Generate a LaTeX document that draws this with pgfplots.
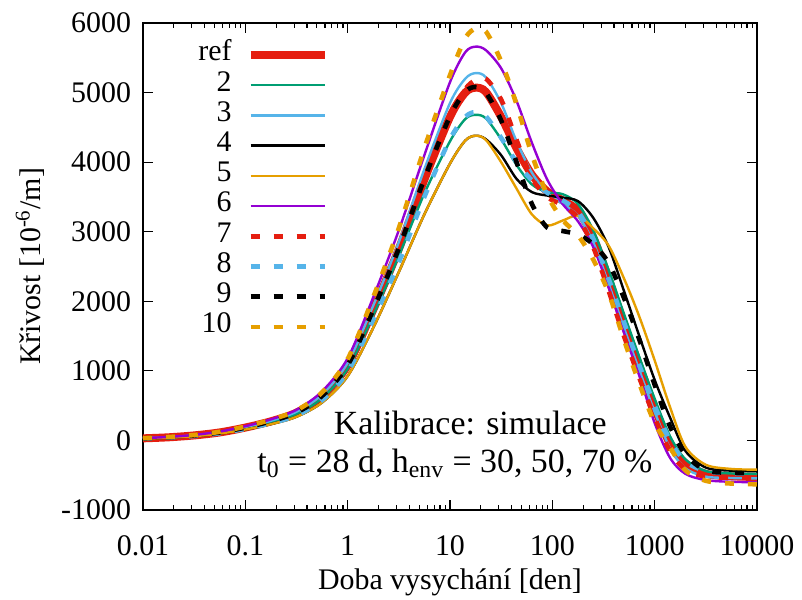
\documentclass[border=0pt]{standalone}
\usepackage{fontspec}
\setmainfont{Liberation Serif}
\usepackage{pgfplots}
\usepackage{pgfplotstable}
\pgfplotsset{compat=1.18}

\definecolor{gpgreen}{HTML}{009E73}
\definecolor{gpsky}{HTML}{56B4E9}
\definecolor{gporange}{HTML}{E69F00}
\definecolor{gppurple}{HTML}{9400D3}
\definecolor{gpred}{HTML}{E51E10}

\pgfplotstableread{
x      ref   s2    s3    s4    s5    s6    s7    s8    s9    s10
0.01   30    28    31    25    25    33    30    27    30    32
0.0178 45    43    46    38    38    50    45    41    45    49
0.0316 72    68    74    61    61    79    72    65    72    78
0.0562 115   109   118   98    98    127   115   104   115   124
0.1    185   176   191   157   157   204   185   167   185   200
0.178  275   261   283   234   234   303   275   248   275   297
0.316  400   380   412   340   340   440   400   360   400   432
0.562  640   608   660   545   545   705   645   580   640   690
1      1080  1030  1115  925   925   1180  1090  985   1080  1170
1.78   1880  1800  1940  1620  1620  2060  1900  1740  1880  2060
3.16   2750  2650  2850  2420  2420  3020  2780  2560  2760  3050
5.62   3750  3550  3900  3250  3250  4100  3780  3500  3760  4200
10     4650  4300  4850  3980  3980  5150  4650  4330  4660  5250
14.1   5000  4620  5200  4310  4310  5580  5050  4650  5010  5780
17.8   5070  4680  5280  4380  4380  5660  5180  4720  5080  5920
22.4   5010  4630  5220  4330  4320  5610  5200  4660  5000  5880
31.6   4650  4330  4850  4100  4000  5350  4900  4350  4600  5450
44.7   4200  3960  4300  3760  3620  4880  4320  4000  4000  4830
63.1   3820  3680  3850  3570  3250  4280  3770  3740  3400  4110
89.1   3580  3570  3560  3520  3090  3750  3500  3560  3060  3530
126    3450  3540  3400  3490  3160  3400  3380  3450  3010  3170
178    3300  3400  3230  3440  3230  3150  3200  3290  2960  2950
251    2920  3020  2850  3200  3050  2780  2780  2900  2820  2600
355    2320  2450  2250  2780  2800  2200  2150  2320  2550  2120
501    1680  1820  1620  2150  2330  1550  1500  1700  2050  1450
708    1070  1200  1010  1500  1780  930   900   1080  1450  820
1000   470   600   410   870   1150  250   330   500   800   250
1413   -50   60    -110  330   480   -250  -150  0     200   -100
1995   -330  -270  -400  -150  -90   -480  -420  -300  -200  -430
3162   -480  -440  -520  -390  -350  -570  -520  -440  -430  -580
5623   -515  -475  -540  -435  -410  -595  -535  -470  -465  -620
10000  -525  -480  -545  -440  -420  -600  -540  -475  -470  -630
}\curves

\begin{document}
\begin{tikzpicture}[font=\fontsize{15}{18}\selectfont]
\useasboundingbox (-71.5bp,-45bp) rectangle (329.5bp,255bp);
\begin{axis}[
    at={(0,0)}, anchor=south west,
    scale only axis,
    width=307bp, height=243.5bp,
    xmode=log,
    xmin=0.01, xmax=10000,
    ymin=-1000, ymax=6000,
    xtick={0.01,0.1,1,10,100,1000,10000},
    xticklabels={0.01,0.1,1,10,100,1000,10000},
    ytick={-1000,0,1000,2000,3000,4000,5000,6000},
    yticklabels={-1000,0,1000,2000,3000,4000,5000,6000},
    tick align=inside,
    major tick length=5bp,
    minor tick length=2.5bp,
    axis line style={line width=0.8bp},
    every tick/.style={line width=0.6bp, black},
    xticklabel style={yshift=-9.5bp},
    yticklabel style={xshift=-2.5bp},
    xlabel={Doba vysychání [den]},
    ylabel={Křivost [10\textsuperscript{-6}/m]},
    every axis x label/.style={at={(axis description cs:0.5,-0.148)}, anchor=center},
    every axis y label/.style={at={(axis description cs:-0.184,0.5)}, anchor=center, rotate=90},
    legend plot pos=right,
    legend cell align=right,
    legend style={at={(rel axis cs:0.303,0.966)}, anchor=north east,
        draw=none, fill=none, inner sep=0pt, row sep=0pt, column sep=7.5bp,
        nodes={inner sep=0pt, text height=10.5bp, text depth=4.6bp}},
    legend image code/.code={\draw[#1] (0bp,0bp) -- (37bp,0bp);},
    every axis plot/.append style={smooth, tension=0.5, line cap=butt},
]
\addplot[gpred, line width=4bp] table[x=x, y=ref] {\curves};
\addlegendentry{ref}
\addplot[gpgreen, line width=1.2bp] table[x=x, y=s2] {\curves};
\addlegendentry{2}
\addplot[gpsky, line width=1.2bp] table[x=x, y=s3] {\curves};
\addlegendentry{3}
\addplot[black, line width=1.2bp] table[x=x, y=s4] {\curves};
\addlegendentry{4}
\addplot[gporange, line width=1.2bp] table[x=x, y=s5] {\curves};
\addlegendentry{5}
\addplot[gppurple, line width=1.2bp] table[x=x, y=s6] {\curves};
\addlegendentry{6}
\addplot[gpred, line width=2.3bp, dash pattern=on 4.5bp off 7bp] table[x=x, y=s7] {\curves};
\addlegendentry{7}
\addplot[gpsky, line width=2.3bp, dash pattern=on 4.5bp off 7bp] table[x=x, y=s8] {\curves};
\addlegendentry{8}
\addplot[black, line width=2.3bp, dash pattern=on 4.5bp off 7bp] table[x=x, y=s9] {\curves};
\addlegendentry{9}
\addplot[gporange, line width=2.3bp, dash pattern=on 4.5bp off 7bp] table[x=x, y=s10] {\curves};
\addlegendentry{10}
\node[font=\fontsize{17}{20}\selectfont] at (rel axis cs:0.533,0.179) {Kalibrace: simulace};
\node[font=\fontsize{17}{20}\selectfont] at (rel axis cs:0.508,0.0965) {t\textsubscript{0} = 28 d, h\textsubscript{env} = 30, 50, 70 \%};
\end{axis}
\end{tikzpicture}
\end{document}
